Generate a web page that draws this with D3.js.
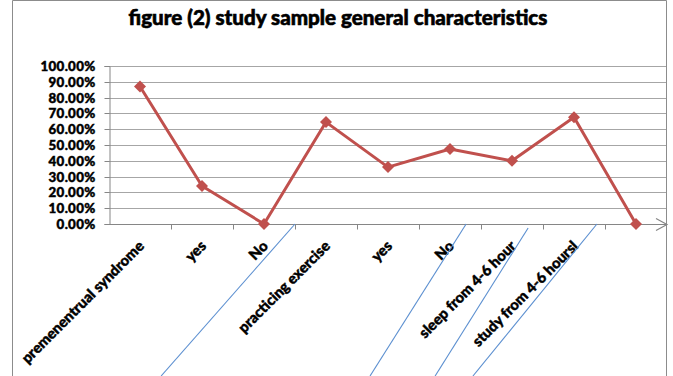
<!DOCTYPE html>
<html>
<head>
<meta charset="utf-8">
<script src="https://cdn.jsdelivr.net/npm/d3@7"></script>
<style>
  html, body { margin: 0; padding: 0; background: #fff; }
  svg { display: block; }
  text { font-family: Lato, "Open Sans", sans-serif; font-weight: 900; fill: #000; stroke: #000; stroke-width: 0.45px; }
</style>
</head>
<body>
<svg id="chart" width="673" height="376"></svg>
<script>
// ---- data ----
const title = "figure (2) study sample general characteristics";
const categories = ["premenentrual syndrome", "yes", "No", "practicing exercise", "yes", "No", "sleep from 4-6 hour", "study from 4-6 hoursl", ""];
const values = [0.87, 0.24, 0.0, 0.645, 0.36, 0.475, 0.40, 0.675, 0.0];
const yTicks = [0, 0.1, 0.2, 0.3, 0.4, 0.5, 0.6, 0.7, 0.8, 0.9, 1.0];
// separator annotations (band units: top on axis, bottom at page edge)
const separatorsTop = [3.0, 5.76, 6.76, 7.87];
const separatorsBottom = [0.84, 4.21, 5.26, 5.87];

// ---- layout ----
const W = 673, H = 376;
const mLeft = 109, mRight = 667, mTop = 66, mBottom = 224;
const svg = d3.select("#chart");

const x = d3.scaleBand().domain(d3.range(categories.length)).range([mLeft, mRight]).padding(0);
const y = d3.scaleLinear().domain([0, 1]).range([mBottom, mTop]);
const xu = d3.scaleLinear().domain([0, categories.length]).range([mLeft, mRight]);

// chart border
svg.append("path")
  .attr("d", `M12.5,${H + 2}V0.5H666.5V${H + 2}`)
  .attr("fill", "none").attr("stroke", "#8c8c8c").attr("stroke-width", 1);

// title
const t = svg.append("text").attr("x", 338).attr("y", 25).attr("text-anchor", "middle")
  .style("font-size", "18px").style("stroke-width", "0.6px").text(title);
const tw = t.node().getComputedTextLength();
t.style("font-size", (18 * 419 / tw).toFixed(2) + "px");

// gridlines
svg.append("g").selectAll("line").data(yTicks.filter(d => d > 0)).join("line")
  .attr("x1", mLeft).attr("x2", mRight - 1)
  .attr("y1", d => Math.round(y(d)) + 0.5).attr("y2", d => Math.round(y(d)) + 0.5)
  .attr("stroke", "#a6a6a6").attr("stroke-width", 1);

// y axis
const yAxis = d3.axisLeft(y).tickValues(yTicks).tickFormat(d3.format(".2%")).tickSize(5).tickPadding(9);
const gy = svg.append("g").attr("transform", `translate(${mLeft + 0.5},0)`).call(yAxis);
gy.select(".domain").attr("stroke", "#868686");
gy.selectAll(".tick line").attr("stroke", "#868686");
gy.selectAll(".tick").attr("transform", d => `translate(0,${Math.round(y(d)) + 0.5})`);
gy.selectAll("text").style("font-size", "13px").style("font-family", "Lato, sans-serif")
  .style("font-weight", 900).style("letter-spacing", "0.3px").attr("dy", "0.36em")
  .attr("fill", "#000").attr("stroke", "#000").attr("stroke-width", 0.45);
// fit label width to reference (~55px for 100.00%)
const yl = gy.selectAll("text").nodes();
const maxW = d3.max(yl, n => n.getComputedTextLength());
gy.selectAll("text").style("font-size", (13 * 55 / maxW).toFixed(2) + "px");

// x axis
const gx = svg.append("g").attr("transform", `translate(0,${mBottom + 0.5})`);
gx.append("line").attr("x1", mLeft).attr("x2", mRight).attr("stroke", "#868686");
gx.selectAll(".tk").data(d3.range(1, categories.length)).join("line").attr("class", "tk")
  .attr("x1", d => Math.round(xu(d)) + 0.5).attr("x2", d => Math.round(xu(d)) + 0.5)
  .attr("y1", 0).attr("y2", 5).attr("stroke", "#868686");
gx.append("path").attr("d", `M${mRight - 11},-6L${mRight},0L${mRight - 11},6`)
  .attr("fill", "none").attr("stroke", "#868686").attr("stroke-width", 1.2);

// x labels
const xl = svg.append("g").selectAll("text").data(categories).join("text")
  .attr("transform", (d, i) => `translate(${x(i) + x.bandwidth() / 2 + 5},${mBottom + 23}) rotate(-45)`)
  .attr("text-anchor", "end")
  .style("font-size", "14px")
  .text(d => d);
const lw = xl.nodes()[0].getComputedTextLength();
xl.style("font-size", (14 * 166 / lw).toFixed(2) + "px");

// separator annotation lines
svg.append("g").selectAll("line").data(separatorsTop).join("line")
  .attr("x1", d => xu(d)).attr("y1", (d, i) => i === 2 ? mBottom + 4 : mBottom)
  .attr("x2", (d, i) => xu(separatorsBottom[i])).attr("y2", H)
  .attr("stroke", "#5b8fd0").attr("stroke-width", 1.1);

// series line
const line = d3.line().x((d, i) => x(i) + x.bandwidth() / 2).y(d => y(d));
svg.append("path").datum(values).attr("d", line)
  .attr("fill", "none").attr("stroke", "#C0504D").attr("stroke-width", 3).attr("stroke-linejoin", "round");

// markers
const sym = d3.symbol(d3.symbolSquare, 72);
svg.append("g").selectAll("path").data(values).join("path")
  .attr("transform", (d, i) => `translate(${x(i) + x.bandwidth() / 2},${y(d)}) rotate(45)`)
  .attr("d", sym).attr("fill", "#C0504D");
</script>
</body>
</html>
